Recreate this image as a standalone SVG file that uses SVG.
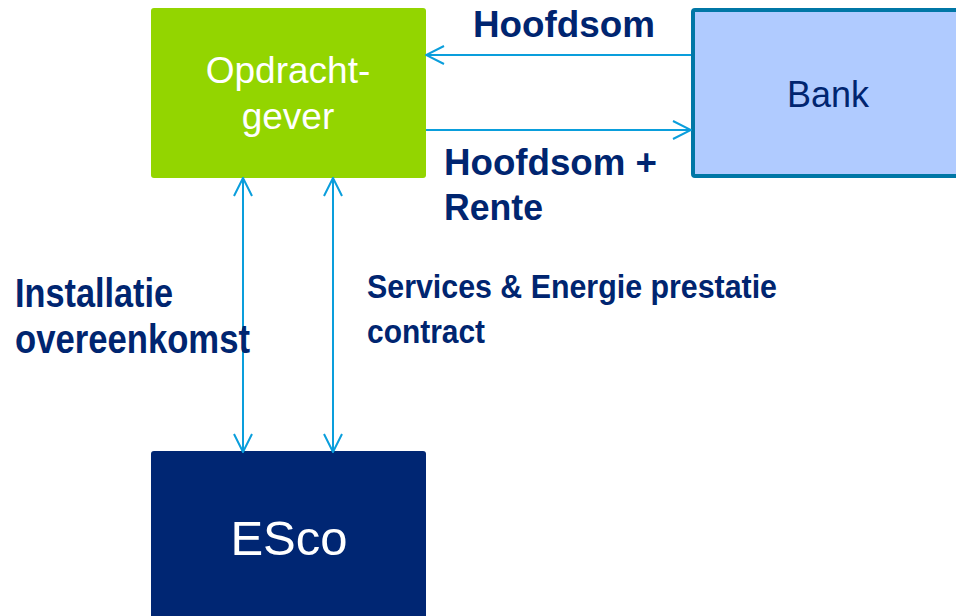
<svg xmlns="http://www.w3.org/2000/svg" width="956" height="616" viewBox="0 0 956 616">
  <style>
    .node-label { font-family: "Liberation Sans", Arial, sans-serif; text-anchor: middle; }
    .edge-label { font-family: "Liberation Sans", Arial, sans-serif; font-weight: bold; fill: #002570; }
    .narrow { font-family: "Liberation Sans Narrow", "Liberation Sans", Arial, sans-serif; font-stretch: condensed; font-weight: bold; fill: #002570; }
    .link { stroke: #0A9EDC; stroke-width: 2; fill: none; }
  </style>
  <defs>
    <marker id="head" viewBox="0 0 20 20" refX="19" refY="10" markerWidth="20" markerHeight="20" markerUnits="userSpaceOnUse" orient="auto-start-reverse">
      <path d="M1,1 L19,10 L1,19" fill="none" stroke="#0A9EDC" stroke-width="2"/>
    </marker>
  </defs>

  <!-- client -->
  <g id="opdrachtgever">
    <rect x="151" y="8" width="275" height="170" rx="3" fill="#93D500"/>
    <text class="node-label" x="288" y="83" font-size="37" fill="#FFFFFF">Opdracht-</text>
    <text class="node-label" x="288" y="129" font-size="37" fill="#FFFFFF">gever</text>
  </g>

  <!-- bank -->
  <g id="bank">
    <rect x="693" y="10" width="280" height="166" rx="2" fill="#B0CBFF" stroke="#0077A6" stroke-width="4"/>
    <text class="node-label" x="828" y="107" font-size="36" fill="#002570">Bank</text>
  </g>

  <!-- energy service company -->
  <g id="esco">
    <rect x="151" y="451" width="275" height="180" rx="3" fill="#002673"/>
    <text class="node-label" x="289" y="555" font-size="49" fill="#FFFFFF">ESco</text>
  </g>

  <!-- connectors -->
  <g id="connectors">
    <line class="link" x1="691" y1="55" x2="426" y2="55" marker-end="url(#head)"/>
    <line class="link" x1="426" y1="130" x2="691" y2="130" marker-end="url(#head)"/>
    <line class="link" x1="243" y1="178" x2="243" y2="452" marker-start="url(#head)" marker-end="url(#head)"/>
    <line class="link" x1="333" y1="178" x2="333" y2="452" marker-start="url(#head)" marker-end="url(#head)"/>
  </g>

  <!-- connector labels -->
  <g id="labels">
    <text class="edge-label" x="473" y="37" font-size="36" textLength="182" lengthAdjust="spacingAndGlyphs">Hoofdsom</text>
    <text class="edge-label" x="444" y="175" font-size="36" textLength="213" lengthAdjust="spacingAndGlyphs">Hoofdsom +</text>
    <text class="edge-label" x="444" y="220" font-size="36" textLength="99" lengthAdjust="spacingAndGlyphs">Rente</text>
    <text class="narrow" x="15" y="307" font-size="40" textLength="158" lengthAdjust="spacingAndGlyphs">Installatie</text>
    <text class="narrow" x="15" y="353" font-size="40" textLength="235" lengthAdjust="spacingAndGlyphs">overeenkomst</text>
    <text class="narrow" x="367" y="298" font-size="34" textLength="410" lengthAdjust="spacingAndGlyphs">Services &amp; Energie prestatie</text>
    <text class="narrow" x="367" y="343" font-size="34" textLength="118" lengthAdjust="spacingAndGlyphs">contract</text>
  </g>
</svg>
